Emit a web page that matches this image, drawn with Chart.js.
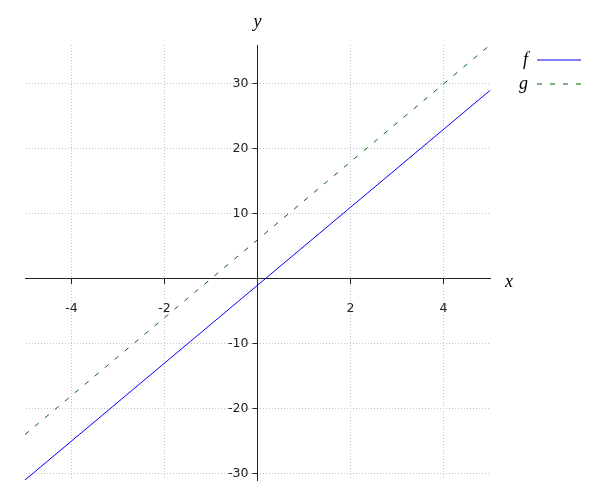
<!DOCTYPE html>
<html>
<head>
<meta charset="utf-8">
<script src="https://cdn.jsdelivr.net/npm/chart.js@4/dist/chart.umd.min.js"></script>
<style>
  html, body { margin: 0; padding: 0; background: #fff; }
  #wrap { width: 600px; height: 500px; }
</style>
</head>
<body>
<div id="wrap"><canvas id="plot" width="600" height="500"></canvas></div>
<script>
// values
const xValues = [-5, 5];
const fValues = [-31, 29];
const gValues = [-24, 36];
const seriesNames = ['f', 'g'];
const xTicks = [-4, -2, 2, 4];
const yTicks = [-30, -20, -10, 10, 20, 30];

const serif = '"Liberation Serif", "DejaVu Serif", serif';
const sans = '"DejaVu Sans", sans-serif';

// axis names "x" and "y" next to the axes
const axisNames = {
    id: 'axisNames',
    afterDraw(chart) {
        const { ctx, chartArea, scales } = chart;
        ctx.save();
        ctx.font = 'italic 18px ' + serif;
        ctx.fillStyle = '#000';
        ctx.textAlign = 'center';
        ctx.textBaseline = 'alphabetic';
        ctx.fillText('x', chartArea.right + 19, scales.y.getPixelForValue(0) + 8);
        ctx.fillText('y', scales.x.getPixelForValue(0), chartArea.top - 18);
        ctx.restore();
    }
};

// move the y axis box onto x = 0 (a left axis keeps its ticks and labels beside it)
const yAtZero = {
    id: 'yAtZero',
    afterLayout(chart) {
        const px = chart.scales.x.getPixelForValue(0);
        const y = chart.scales.y;
        y.left = px - 50;
        y.right = px;
        y.width = 50;
    }
};

function points(ys) {
    return xValues.map((x, i) => ({ x: x, y: ys[i] }));
}

const ctx = document.getElementById('plot').getContext('2d');

new Chart(ctx, {
    type: 'line',
    data: {
        datasets: [{
            label: seriesNames[0],
            data: points(fValues),
            borderColor: '#0000ff',
            backgroundColor: '#0000ff',
            borderWidth: 1,
            pointRadius: 0
        },
        {
            label: seriesNames[1],
            data: points(gValues),
            borderColor: '#006400',
            backgroundColor: '#006400',
            borderWidth: 1,
            borderDash: [5, 8],
            pointRadius: 0
        }]
    },
    options: {
        responsive: false,
        animation: false,
        layout: {
            padding: { top: 45, left: 25, bottom: 20, right: 13 }
        },
        plugins: {
            legend: {
                position: 'right',
                align: 'start',
                rtl: true,
                labels: {
                    usePointStyle: true,
                    pointStyle: 'line',
                    pointStyleWidth: 44,
                    padding: 6,
                    color: '#000',
                    font: { family: serif, size: 18, style: 'italic' },
                    generateLabels(chart) {
                        const items = Chart.defaults.plugins.legend.labels.generateLabels(chart);
                        items.forEach((item, i) => {
                            item.lineDash = chart.data.datasets[i].borderDash || [];
                        });
                        return items;
                    }
                }
            },
            tooltip: { enabled: false }
        },
        scales: {
            x: {
                type: 'linear',
                position: { y: 0 },
                min: -5,
                max: 5,
                afterBuildTicks: s => { s.ticks = xTicks.map(v => ({ value: v })); },
                afterFit: s => { s.height = 0; },
                grid: {
                    color: '#c4c4c4',
                    tickColor: '#222',
                    tickLength: 5
                },
                border: { color: '#222', width: 1, dash: [1, 2] },
                ticks: {
                    color: '#222',
                    padding: 18,
                    maxRotation: 0,
                    font: { family: sans, size: 12.5 }
                }
            },
            y: {
                type: 'linear',
                position: 'left',
                min: -31,
                max: 36,
                afterBuildTicks: s => { s.ticks = yTicks.map(v => ({ value: v })); },
                afterFit: s => { s.width = 0; },
                grid: {
                    color: '#c4c4c4',
                    tickColor: '#222',
                    tickLength: 5
                },
                border: { color: '#222', width: 1, dash: [1, 2] },
                ticks: {
                    color: '#222',
                    padding: 4,
                    font: { family: sans, size: 12.5 }
                }
            },
            // empty box that keeps the legend out at the right edge
            pad: {
                type: 'linear',
                position: 'right',
                display: true,
                grid: { display: false },
                border: { display: false },
                ticks: { display: false },
                afterFit: s => { s.width = 19; }
            }
        }
    },
    plugins: [axisNames, yAtZero]
});
</script>
</body>
</html>
